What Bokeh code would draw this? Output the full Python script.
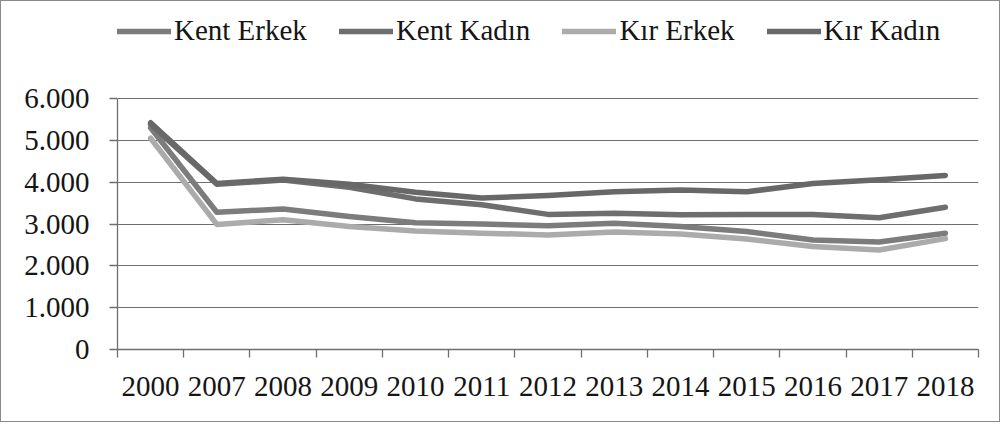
from bokeh.plotting import figure
from bokeh.models import FixedTicker, Legend, LegendItem, Range1d
from bokeh.embed import file_html
from bokeh.resources import INLINE

years = ["2000", "2007", "2008", "2009", "2010", "2011", "2012",
         "2013", "2014", "2015", "2016", "2017", "2018"]
kent_erkek = [5300, 3280, 3360, 3180, 3030, 3000, 2960, 3020, 2940, 2820, 2620, 2570, 2780]
kent_kadin = [5380, 3950, 4050, 3880, 3600, 3460, 3230, 3260, 3220, 3230, 3230, 3150, 3400]
kir_erkek = [5050, 2990, 3100, 2940, 2830, 2780, 2740, 2810, 2760, 2640, 2460, 2380, 2650]
kir_kadin = [5420, 3970, 4070, 3950, 3760, 3620, 3680, 3770, 3810, 3770, 3970, 4060, 4160]
y_ticks = [0, 1000, 2000, 3000, 4000, 5000, 6000]
y_labels = ["0", "1.000", "2.000", "3.000", "4.000", "5.000", "6.000"]

series = [
    ("Kent Erkek", kent_erkek, "#7c7c7c"),
    ("Kent Kadın", kent_kadin, "#6e6e6e"),
    ("Kır Erkek", kir_erkek, "#ababab"),
    ("Kır Kadın", kir_kadin, "#686868"),
]

FONT = "Liberation Serif"
FS = "29px"

# the frame reaches up to the legend row; the y axis itself stops at 6.000
p = figure(width=1000, height=422, output_backend="svg", toolbar_location=None,
           x_range=Range1d(-0.5, len(years) - 0.5), y_range=Range1d(0, 8080),
           min_border_left=116, min_border_right=23, min_border_top=10,
           min_border_bottom=74)
p.styles = {"border": "1.5px solid #8a8a8a", "box-sizing": "border-box"}
p.outline_line_color = None
p.background_fill_color = "white"
p.border_fill_color = "white"

xs = list(range(len(years)))
items = []
for name, vals, col in series:
    r = p.line(xs, vals, line_color=col, line_width=5.5, line_join="round", line_cap="round")
    items.append(LegendItem(label=name, renderers=[r]))

# x axis
p.xaxis.ticker = FixedTicker(ticks=xs, minor_ticks=[i - 0.5 for i in range(len(years) + 1)])
p.xaxis.major_label_overrides = {i: y for i, y in enumerate(years)}
p.xaxis.major_tick_line_color = None
p.xaxis.major_tick_out = 0
p.xaxis.minor_tick_out = 8
p.xaxis.minor_tick_in = 0
p.xaxis.minor_tick_line_color = "#6f6f6f"
p.xaxis.minor_tick_line_width = 1.3
p.xaxis.axis_line_color = "#6f6f6f"
p.xaxis.axis_line_width = 1.3
p.xaxis.major_label_standoff = 19
p.xaxis.major_label_text_font = FONT
p.xaxis.major_label_text_font_size = FS
p.xaxis.major_label_text_color = "#151515"

# y axis
p.yaxis.ticker = FixedTicker(ticks=y_ticks, minor_ticks=[])
p.yaxis.bounds = (0, 6000)
p.yaxis.major_label_overrides = {t: l for t, l in zip(y_ticks, y_labels)}
p.yaxis.major_tick_out = 8
p.yaxis.major_tick_in = 0
p.yaxis.major_tick_line_color = "#6f6f6f"
p.yaxis.major_tick_line_width = 1.3
p.yaxis.axis_line_color = "#6f6f6f"
p.yaxis.axis_line_width = 1.3
p.yaxis.major_label_standoff = 20
p.yaxis.major_label_text_font = FONT
p.yaxis.major_label_text_font_size = FS
p.yaxis.major_label_text_color = "#151515"

p.xgrid.grid_line_color = None
p.ygrid.ticker = FixedTicker(ticks=y_ticks)
p.ygrid.grid_line_color = "#6f6f6f"
p.ygrid.grid_line_width = 1.2

legend = Legend(items=items, orientation="horizontal", location=(0, 302),
                glyph_width=54, glyph_height=30, label_standoff=3, spacing=32,
                padding=0, margin=0, border_line_color=None, background_fill_alpha=0,
                label_text_font=FONT, label_text_font_size=FS,
                label_text_color="#151515", label_height=30)
p.add_layout(legend, "center")

open("out.html", "w").write(file_html(p, INLINE))
